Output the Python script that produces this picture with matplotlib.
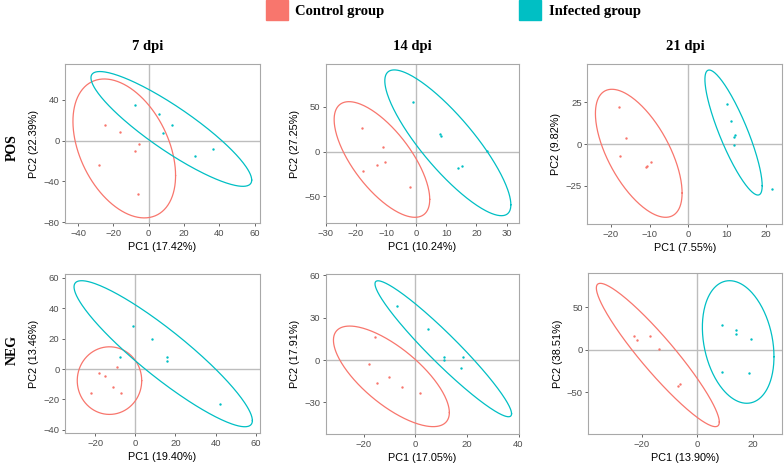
import numpy as np
import matplotlib
matplotlib.use("Agg")
import matplotlib.pyplot as plt
from matplotlib.patches import Rectangle

# Scores (PC1, PC2) for each panel
pos7_control = [(-25, 15), (-16.5, 9), (-5.5, -3), (-8, -10), (-28, -24), (-6, -52)]
pos7_infected = [(-8, 35), (6, 26), (8, 8), (13, 15), (26, -15), (36.5, -8.5)]
pos14_control = [(-18, 27), (-11, 5), (-10.5, -12), (-13, -15), (-17.5, -22), (-2, -40)]
pos14_infected = [(-1.2, 55.6), (8, 20), (8.2, 17), (23.5, 1), (14, -18), (15.3, -15.6)]
pos21_control = [(-18, 22), (-16, 3.5), (-17.7, -7), (-9.7, -10.5), (-10.6, -13), (-11, -14)]
pos21_infected = [(10, 24), (11, 13.5), (12, 5.5), (11.7, 4.3), (11.7, -0.5), (21.7, -26.7)]
neg7_control = [(-9, 1.5), (-18, -2.5), (-15, -4.5), (-11, -11.5), (-7, -16), (-22, -16)]
neg7_infected = [(-1.3, 28), (8.5, 20), (16, 8), (16, 5), (-7.6, 8), (42, -23)]
neg14_control = [(-15.5, 16), (-18, -3), (-10, -12), (-15, -16), (-5, -19), (2, -23.5)]
neg14_infected = [(-7, 38), (5, 22), (11, 2.3), (11, 0), (18.4, 2), (17.7, -5.5)]
neg21_control = [(-23, 16), (-21.6, 12), (-17, 16), (-14, 1.5), (-7, -42), (-6.3, -40)]
neg21_infected = [(8.8, 29.5), (14, 24), (14, 19), (19.4, 12.5), (9, -26), (18.6, -27.5)]

# Confidence ellipses: centre x, centre y, half-width, half-height, correlation
pos7_ell = [(-13.85, -7.6, 29.05, 68.2, -0.39), (12.8, 11.55, 45.5, 56.35, -0.89)]
pos14_ell = [(-11.35, -8.75, 15.85, 64.65, -0.69), (10.5, 9.9, 20.9, 81.5, -0.85)]
pos21_ell = [(-12.8, -5.55, 11.2, 38.25, -0.62), (11.7, 6.85, 7.4, 37.35, -0.85)]
neg7_ell = [(-12.85, -7.6, 16.05, 22.2, 0.0), (13.9, 10.05, 44.4, 47.95, -0.915)]
neg14_ell = [(-9.25, -11.55, 22.45, 35.55, -0.72), (10.85, 7.95, 26.45, 48.05, -0.955)]
neg21_ell = [(-14.25, -5.9, 22.15, 84.3, -0.935), (14.7, 9.4, 12.9, 72.1, -0.24)]

pc1_labels = ["PC1 (17.42%)", "PC1 (10.24%)", "PC1 (7.55%)",
              "PC1 (19.40%)", "PC1 (17.05%)", "PC1 (13.90%)"]
pc2_labels = ["PC2 (22.39%)", "PC2 (27.25%)", "PC2 (9.82%)",
              "PC2 (13.46%)", "PC2 (17.91%)", "PC2 (38.51%)"]
col_titles = ["7 dpi", "14 dpi", "21 dpi"]
row_titles = ["POS", "NEG"]
groups = ["Control group", "Infected group"]

xlims = [(-47.4, 63.0), (-29.7, 34.2), (-26.1, 24.3), (-35, 62.1), (-34.7, 40.3), (-39.3, 30.6)]
ylims = [(-80.8, 75.3), (-80.1, 98), (-47.8, 47.8), (-42.2, 62.4), (-52.3, 60.8), (-99.2, 90.2)]
xticks = [[-40, -20, 0, 20, 40, 60], [-30, -20, -10, 0, 10, 20, 30], [-20, -10, 0, 10, 20],
          [-20, 0, 20, 40, 60], [-20, 0, 20, 40], [-20, 0, 20]]
yticks = [[-80, -40, 0, 40], [-50, 0, 50], [-25, 0, 25],
          [-40, -20, 0, 20, 40, 60], [-30, 0, 30, 60], [-50, 0, 50]]

colors = ["#F8766D", "#00BFC4"]
W, H = 784, 467

plt.rcParams['font.family'] = ['Liberation Sans', 'DejaVu Sans']
fig = plt.figure(figsize=(W / 100, H / 100), dpi=100)

# axes boxes in pixels: left, top, right, bottom
boxes = [(65, 64, 260, 223), (325.7, 64, 519.3, 223.3), (587.3, 64, 782.3, 224),
         (65, 274, 260, 433.3), (325.7, 274, 519.3, 434), (588.3, 273.3, 782.3, 434.3)]

points = [(pos7_control, pos7_infected), (pos14_control, pos14_infected),
          (pos21_control, pos21_infected), (neg7_control, neg7_infected),
          (neg14_control, neg14_infected), (neg21_control, neg21_infected)]
ellipses = [pos7_ell, pos14_ell, pos21_ell, neg7_ell, neg14_ell, neg21_ell]

t = np.linspace(0, 2 * np.pi, 300)
for i, (l, top, r, b) in enumerate(boxes):
    ax = fig.add_axes([l / W, 1 - b / H, (r - l) / W, (b - top) / H])
    ax.axhline(0, color="#BDBDBD", lw=1.0, zorder=1)
    ax.axvline(0, color="#BDBDBD", lw=1.0, zorder=1)
    for g in range(2):
        cx, cy, hx, hy, rho = ellipses[i][g]
        ex = cx + hx * np.cos(t)
        ey = cy + hy * (rho * np.cos(t) + np.sqrt(1 - rho ** 2) * np.sin(t))
        ax.plot(ex, ey, color=colors[g], lw=0.9, zorder=2)
        px = [p[0] for p in points[i][g]]
        py = [p[1] for p in points[i][g]]
        ax.scatter(px, py, s=3, color=colors[g], linewidths=0, zorder=3)
    ax.set_xlim(xlims[i])
    ax.set_ylim(ylims[i])
    ax.set_xticks(xticks[i])
    ax.set_yticks(yticks[i])
    ax.tick_params(labelsize=6.8, colors="#4D4D4D", length=2.5, width=0.6, pad=1.5)
    for s in ax.spines.values():
        s.set_color("#A8A8A8")
        s.set_linewidth(0.8)
    ax.set_xlabel(pc1_labels[i], fontsize=7.8, labelpad=3)
    ax.set_ylabel(pc2_labels[i], fontsize=7.8, labelpad=3)

# column titles (centred over the whole panel, not the axes)
for x, title in zip([148, 412, 685], col_titles):
    fig.text(x / W, 1 - 50 / H, title, ha="center", va="baseline", fontsize=10.5,
             fontweight="bold", family="Liberation Serif")

# row titles
for y, title in zip([148, 350], row_titles):
    fig.text(12.5 / W, 1 - y / H, title, rotation=90, ha="center", va="center",
             fontsize=10, fontweight="bold", family="Liberation Serif")

# legend at the top
for g, (x0, tx) in enumerate([(266, 295), (519, 549)]):
    fig.patches.append(Rectangle((x0 / W, 1 - 20 / H), 22 / W, 20 / H,
                                 transform=fig.transFigure, color=colors[g]))
    fig.text(tx / W, 1 - 12 / H, groups[g], ha="left", va="center", fontsize=10.5,
             fontweight="bold", family="Liberation Serif")

fig.savefig("out.png", dpi=100)
